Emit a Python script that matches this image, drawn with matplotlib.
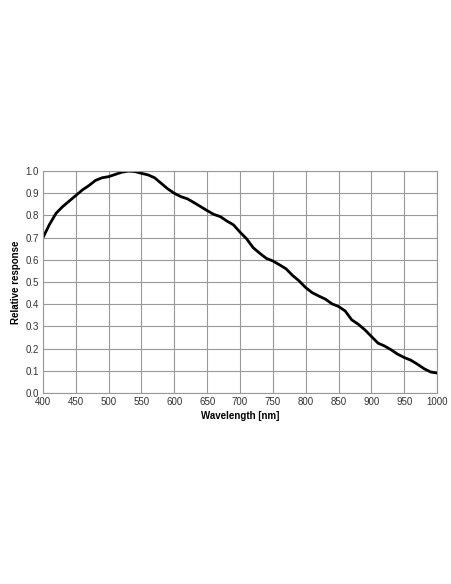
import numpy as np
import matplotlib
matplotlib.use("Agg")
import matplotlib.pyplot as plt

plt.rcParams['font.family'] = ['Liberation Sans', 'DejaVu Sans']

# Spectral response
wavelength = [400, 410, 420, 430, 440, 450, 460, 470, 480, 490, 500, 510, 520, 530, 540,
              550, 560, 570, 580, 590, 600, 610, 620, 630, 640, 650, 660, 670, 680, 690,
              700, 710, 720, 730, 740, 750, 760, 770, 780, 790, 800, 810, 820, 830, 840,
              850, 860, 870, 880, 890, 900, 910, 920, 930, 940, 950, 960, 970, 980, 990, 1000]
response = [0.70, 0.76, 0.81, 0.84, 0.865, 0.89, 0.915, 0.935, 0.958, 0.97, 0.975, 0.985,
            0.995, 1.0, 0.998, 0.99, 0.983, 0.97, 0.945, 0.92, 0.90, 0.885, 0.875, 0.858,
            0.84, 0.822, 0.805, 0.795, 0.775, 0.758, 0.725, 0.695, 0.655, 0.63, 0.607,
            0.595, 0.578, 0.56, 0.53, 0.505, 0.475, 0.452, 0.437, 0.423, 0.402, 0.39,
            0.37, 0.33, 0.31, 0.285, 0.255, 0.225, 0.212, 0.195, 0.175, 0.16, 0.148,
            0.13, 0.11, 0.095, 0.09]

fig = plt.figure(figsize=(4.52, 5.84), dpi=100)
ax = fig.add_axes([0.095, 0.327, 0.872, 0.380])

ax.plot(wavelength, response, color='black', linewidth=2.0, solid_capstyle='round')

ax.set_xlim(400, 1000)
ax.set_ylim(0, 1.0)
ax.set_xticks(np.arange(400, 1001, 50))
ax.set_yticks(np.arange(0, 1.01, 0.1))
ax.set_yticklabels([f"{v:.1f}" for v in np.arange(0, 1.01, 0.1)])
ax.tick_params(labelsize=7, length=0, pad=3, colors='#333333')
ax.grid(True, color='#999999', linewidth=0.8)
for s in ax.spines.values():
    s.set_color('#999999')
    s.set_linewidth(0.8)

ax.set_xlabel('Wavelength [nm]', fontsize=7, fontweight='bold', labelpad=3)
ax.set_ylabel('Relative response', fontsize=7, fontweight='bold', labelpad=3)

fig.savefig('out.png', dpi=100)
